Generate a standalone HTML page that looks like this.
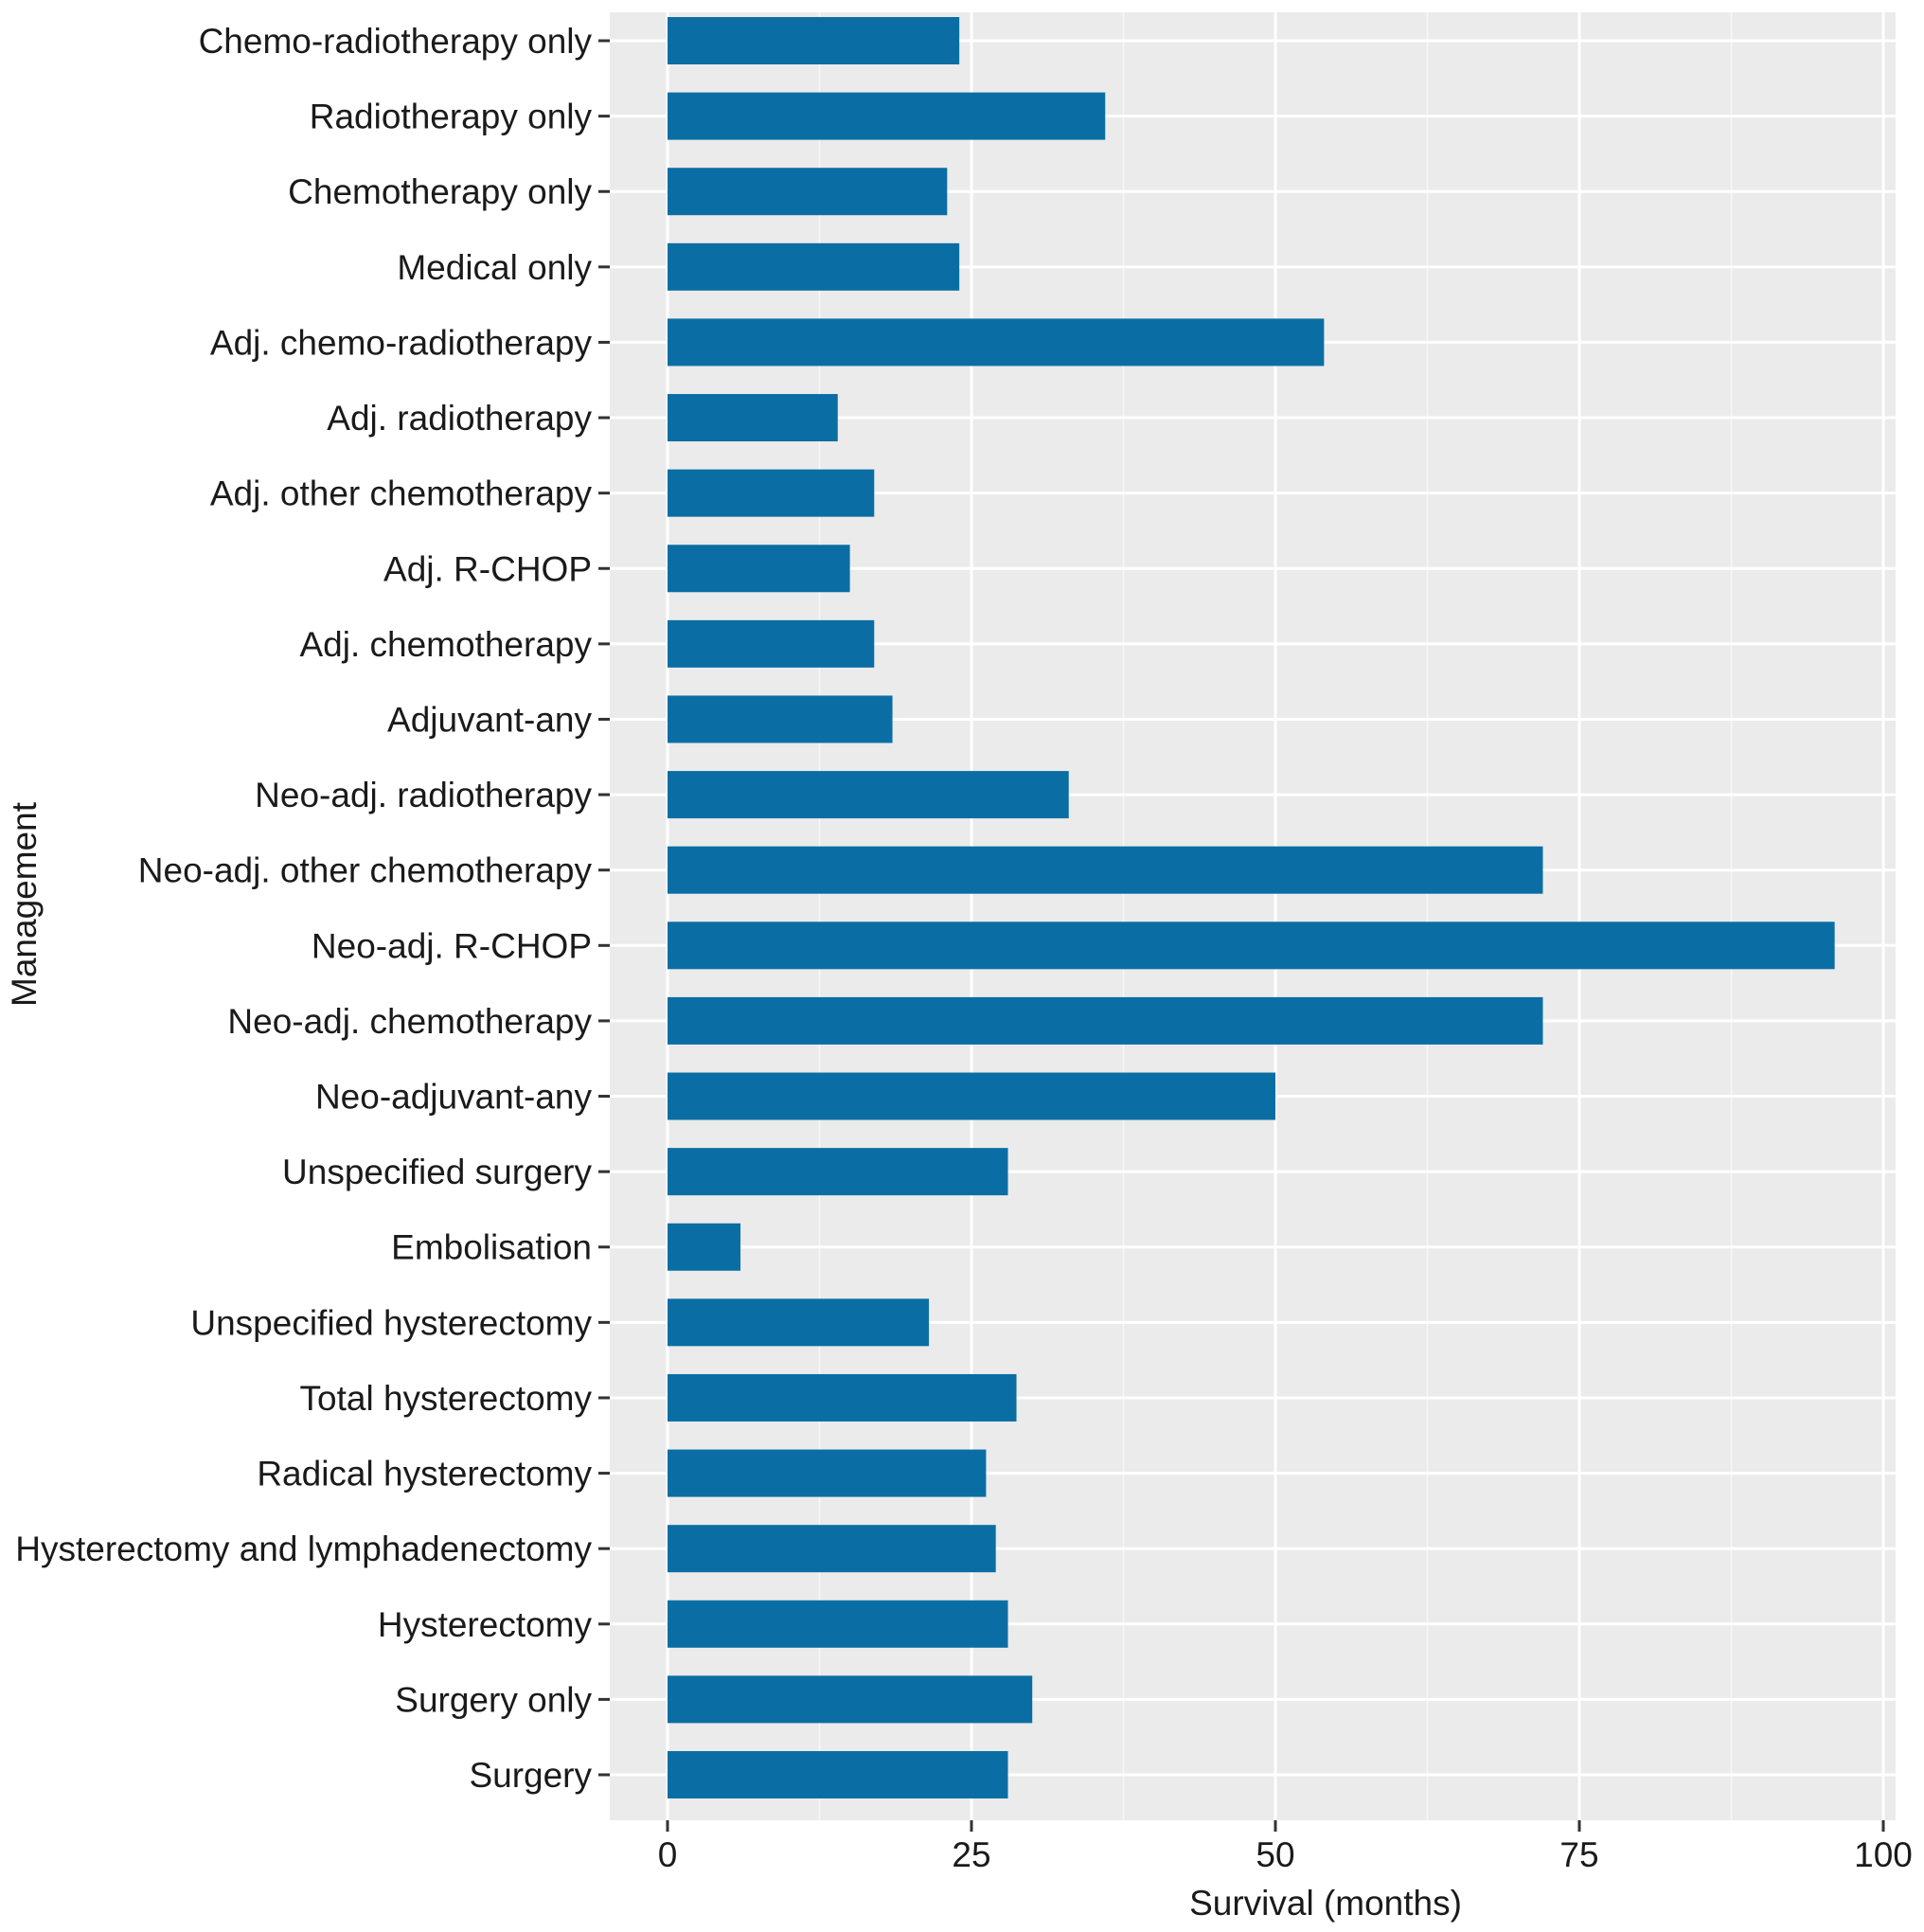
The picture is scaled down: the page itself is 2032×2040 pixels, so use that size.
<!DOCTYPE html>
<html><head><meta charset="utf-8"><style>
html,body{margin:0;padding:0;background:#fff;}
svg{display:block;font-family:"Liberation Sans",Arial,sans-serif;}
</style></head><body>
<svg id="chart" width="2032" height="2040" viewBox="0 0 2032 2040" xmlns="http://www.w3.org/2000/svg">
<rect x="644" y="13" width="1358" height="1909" fill="#ebebeb"/>
<g id="grid"></g>
<g id="bars"></g>
<g id="yaxis"></g>
<g id="xaxis"></g>
<text x="1400" y="2022" font-size="37" text-anchor="middle" fill="#1a1a1a">Survival (months)</text>
<text transform="translate(38,955) rotate(-90)" font-size="37" text-anchor="middle" fill="#1a1a1a">Management</text>
</svg>
<script>
const categories=["Chemo-radiotherapy only","Radiotherapy only","Chemotherapy only","Medical only","Adj. chemo-radiotherapy","Adj. radiotherapy","Adj. other chemotherapy ","Adj. R-CHOP","Adj. chemotherapy","Adjuvant-any","Neo-adj. radiotherapy","Neo-adj. other chemotherapy","Neo-adj. R-CHOP","Neo-adj. chemotherapy","Neo-adjuvant-any","Unspecified surgery","Embolisation","Unspecified hysterectomy","Total hysterectomy","Radical hysterectomy","Hysterectomy and lymphadenectomy","Hysterectomy","Surgery only","Surgery"];
const survival=[24,36,23,24,54,14,17,15,17,18.5,33,72,96,72,50,28,6,21.5,28.7,26.2,27,28,30,28];
const xTicks=[0,25,50,75,100];
const xMinor=[12.5,37.5,62.5,87.5];
const NS="http://www.w3.org/2000/svg";
const x=v=>705+v*(1989-705)/100;
const y=i=>43+i*(1874-43)/23;
const barH=50;
function mk(tag,attrs,parent){const e=document.createElementNS(NS,tag);for(const k in attrs)e.setAttribute(k,attrs[k]);parent.appendChild(e);return e;}
const grid=document.getElementById('grid'),bars=document.getElementById('bars'),ya=document.getElementById('yaxis'),xa=document.getElementById('xaxis');
xMinor.forEach(v=>{const l=mk('line',{x1:x(v),x2:x(v),y1:13,y2:1922,stroke:'#f7f7f7','stroke-width':1.5},grid);

});
xTicks.forEach(v=>{const l=mk('line',{x1:x(v),x2:x(v),y1:13,y2:1922,stroke:'#fff','stroke-width':3},grid);

});
categories.forEach((c,i)=>{const l=mk('line',{x1:644,x2:2002,y1:y(i),y2:y(i),stroke:'#fff','stroke-width':3},grid);

});
categories.forEach((c,i)=>{
const r=mk('rect',{x:x(0),y:y(i)-barH/2,width:x(survival[i])-x(0),height:barH,fill:'#0a6ea4'},bars);


const t=mk('line',{x1:632,x2:644,y1:y(i),y2:y(i),stroke:'#333','stroke-width':3},ya);


const tx=mk('text',{x:625,y:y(i)+13,'font-size':37,'text-anchor':'end',fill:'#1a1a1a'},ya);
tx.textContent=c.trim();


});
xTicks.forEach(v=>{
const t=mk('line',{x1:x(v),x2:x(v),y1:1922,y2:1934,stroke:'#333','stroke-width':3},xa);


const tx=mk('text',{x:x(v),y:1971,'font-size':37,'text-anchor':'middle',fill:'#1a1a1a'},xa);
tx.textContent=v;


});
</script>
</body></html>
